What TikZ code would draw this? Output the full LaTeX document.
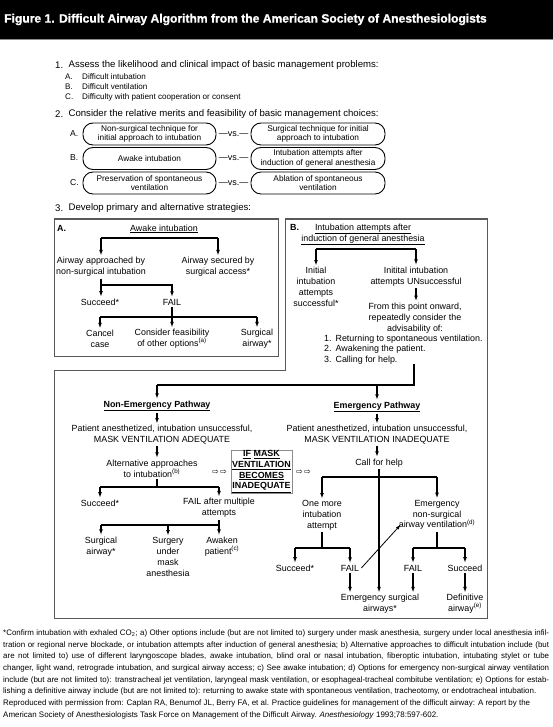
\documentclass[tikz,border=0pt]{standalone}
\usepackage{fontspec}
\setmainfont{Liberation Sans}
\newfontfamily\symf{DejaVu Sans}
\newfontfamily\titlef{Liberation Sans}[BoldFeatures={FakeBold=1.2}]
\usetikzlibrary{arrows.meta,calc}
\tikzset{
 txt/.style={font=\fontsize{8.9}{10.8}\selectfont, align=center, inner xsep=0pt, inner ysep=1.8pt},
 btxt/.style={font=\bfseries\fontsize{8.9}{10.8}\selectfont, align=center, inner xsep=0pt, inner ysep=1.8pt},
 bar/.style={line width=1.2pt},
 arw/.style={line width=1.2pt, -{Latex[length=5.5pt,width=3.8pt]}},
 thinarw/.style={line width=0.8pt, -{Latex[length=5pt,width=3.4pt]}},
 boxline/.style={draw=black!65, line width=1pt},
 rowbox/.style={draw, line width=0.9pt, rounded corners=10pt, minimum height=22pt, align=center, font=\fontsize{8.3}{9.4}\selectfont, inner sep=0pt},
 stepfont/.style={font=\fontsize{9.6}{11}\selectfont, inner sep=0pt, anchor=west},
 subfont/.style={font=\fontsize{8.1}{10}\selectfont, inner sep=0pt, anchor=west},
 vsfont/.style={font=\fontsize{9}{10}\selectfont, inner sep=0pt},
}
\begin{document}
\begin{tikzpicture}[x=1pt,y=-1pt]
\useasboundingbox (0,0) rectangle (553,727);
\fill[white] (0,0) rectangle (553,727);
% title bar
\fill[black] (0,0) rectangle (553,39);
\draw[black!45, line width=0.8pt] (0,39.4) -- (553,39.4);
\node[anchor=west, text=white, inner sep=0pt, font=\titlef\bfseries\fontsize{12.1}{14}\selectfont] (title) at (4,19.5) {Figure 1. Difficult Airway Algorithm from the American Society of Anesthesiologists};

% step 1
\node[stepfont] (s1l) at (55,65) {1.};
\node[stepfont] (s1t) at (68.4,65) {Assess the likelihood and clinical impact of basic management problems:};
\node[subfont] (s1al) at (65,77) {A.};
\node[subfont] (s1at) at (82,77) {Difficult intubation};
\node[subfont] (s1bl) at (65,87) {B.};
\node[subfont] (s1bt) at (82,87) {Difficult ventilation};
\node[subfont] (s1cl) at (65,97) {C.};
\node[subfont] (s1ct) at (82,97) {Difficulty with patient cooperation or consent};

% step 2
\node[stepfont] (s2l) at (55,114) {2.};
\node[stepfont] (s2t) at (68.4,114) {Consider the relative merits and feasibility of basic management choices:};
\node[subfont, font=\fontsize{8.6}{10}\selectfont] (rAl) at (70,134) {A.};
\node[subfont, font=\fontsize{8.6}{10}\selectfont] (rBl) at (70,158) {B.};
\node[subfont, font=\fontsize{8.6}{10}\selectfont] (rCl) at (70,183) {C.};
\node[rowbox, minimum width=133pt] (rA1) at (149.5,134) {Non-surgical technique for\\initial approach to intubation};
\node[rowbox, minimum width=134pt] (rA2) at (318,134) {Surgical technique for initial\\approach to intubation};
\node[rowbox, minimum width=133pt] (rB1) at (149.5,158.5) {Awake intubation};
\node[rowbox, minimum width=134pt] (rB2) at (318,158.5) {Intubation attempts after\\induction of general anesthesia};
\node[rowbox, minimum width=133pt] (rC1) at (149.5,183) {Preservation of spontaneous\\ventilation};
\node[rowbox, minimum width=134pt] (rC2) at (318,183) {Ablation of spontaneous\\ventilation};
\node[vsfont] (vA) at (233.5,134) {—vs.—};
\node[vsfont] (vB) at (233.5,158.5) {—vs.—};
\node[vsfont] (vC) at (233.5,183) {—vs.—};

% step 3
\node[stepfont] (s3l) at (55,208) {3.};
\node[stepfont] (s3t) at (68.4,208) {Develop primary and alternative strategies:};

% boxes
\draw[boxline] (54,219) rectangle (278,356);
\draw[boxline] (285,219) -- (487,219) -- (487,618) -- (54,618) -- (54,370) -- (285,370) -- cycle;

% ---- Box A
\node[btxt, anchor=west] (labA) at (57,228) {A.};
\node[txt] (awT) at (164,229) {\underline{Awake intubation}};
\coordinate (yA1) at (0,238);
\node[txt] (aA1) at (101,267) {Airway approached by\\non-surgical intubation};
\node[txt] (aA2) at (218,267) {Airway secured by\\surgical access*};
\draw[bar] (aA1.north |- yA1) -- (aA2.north |- yA1);
\draw[arw] (aA1.north |- yA1) -- (aA1.north);
\draw[arw] (aA2.north |- yA1) -- (aA2.north);
\coordinate (yA2) at (0,285);
\node[txt] (sA) at (100,302) {Succeed*};
\node[txt] (fA) at (172,302) {FAIL};
\draw[arw] (aA1.south) -- (aA1.south |- sA.north);
\draw[arw] (aA1.south |- yA2) -- (fA.north |- yA2) -- (fA.north);
\coordinate (yA3) at (0,317);
\node[txt] (cA) at (100,339) {Cancel\\case};
\node[txt] (oA) at (172,339) {Consider feasibility\\of other options\textsuperscript{(a)}};
\node[txt] (gA) at (257,339) {Surgical\\airway*};
\draw[arw] (fA.south) -- (fA.south |- oA.north);
\draw[bar] (cA.north |- yA3) -- (gA.north |- yA3);
\draw[arw] (cA.north |- yA3) -- (cA.north);
\draw[arw] (gA.north |- yA3) -- (gA.north);

% ---- Box B
\node[btxt, anchor=west] (labB) at (290,227) {B.};
\node[txt] (bT) at (363,234.5) {\underline{Intubation attempts after}\\\underline{induction of general anesthesia}};
\coordinate (yB1) at (0,249);
\node[txt] (iB1) at (316,287) {Initial\\intubation\\attempts\\successful*};
\node[txt] (iB2) at (416,276.5) {Initital intubation\\attempts UNsuccessful};
\draw[bar] (iB1.north |- yB1) -- (iB2.north |- yB1);
\draw[arw] (iB1.north |- yB1) -- (iB1.north);
\draw[arw] (iB2.north |- yB1) -- (iB2.north);
\node[txt] (fB) at (415,318) {From this point onward,\\repeatedly consider the\\advisability of:};
\draw[arw] (iB2.south) -- (iB2.south |- fB.north);
\node[txt, align=left, anchor=west] (lB) at (324,349.5) {1.\hspace{4pt}Returning to spontaneous ventilation.\\2.\hspace{4pt}Awakening the patient.\\3.\hspace{4pt}Calling for help.};

% pathways split
\coordinate (cB) at (414,364);
\coordinate (yP) at (0,385);
\node[btxt] (nE) at (157,406) {\underline{Non-Emergency Pathway}};
\node[btxt] (eE) at (377,407) {\underline{Emergency Pathway}};
\draw[bar] (cB) -- (cB |- yP) -- (nE.north |- yP);
\draw[arw] (nE.north |- yP) -- (nE.north);
\draw[arw] (eE.north |- yP) -- (eE.north);

% ---- Non-emergency
\node[txt] (pN) at (162,435) {Patient anesthetized, intubation unsuccessful,\\MASK VENTILATION ADEQUATE};
\draw[arw] (nE.south) -- (nE.south |- pN.north);
\node[txt] (aN) at (152,468.5) {Alternative approaches\\to intubation\textsuperscript{(b)}};
\draw[arw] (nE.south |- pN.south) -- (nE.south |- aN.north);
\coordinate (yN1) at (0,487);
\node[txt] (sN) at (100,503) {Succeed*};
\node[txt] (fN) at (219,508) {FAIL after multiple\\attempts};
\draw[bar] (nE.south |- aN.south) -- (nE.south |- yN1);
\draw[bar] (sN.north |- yN1) -- (fN.north |- yN1);
\draw[arw] (sN.north |- yN1) -- (sN.north);
\draw[arw] (fN.north |- yN1) -- (fN.north);
\coordinate (yN2) at (0,525);
\node[txt] (gN) at (101,546.5) {Surgical\\airway*};
\node[txt] (uN) at (168,557) {Surgery\\under\\mask\\anesthesia};
\node[txt] (wN) at (222,546.5) {Awaken\\patient\textsuperscript{(c)}};
\draw[bar] (fN.south) -- (fN.south |- yN2) -- (gN.north |- yN2);
\draw[arw] (gN.north |- yN2) -- (gN.north);
\draw[arw] (uN.north |- yN2) -- (uN.north);
\draw[arw] (fN.south |- yN2) -- (fN.south |- wN.north);

% IF MASK box
\node[draw=black!45, line width=0.8pt, minimum width=61pt, minimum height=43pt, align=center, inner sep=0pt, font=\bfseries\fontsize{8.9}{10.8}\selectfont] (ifB) at (261.5,471.5) {\underline{IF} \underline{MASK}\\\underline{VENTILATION}\\\underline{BECOMES}\\\underline{INADEQUATE}};
\node[inner sep=0pt, font=\symf\fontsize{8}{8}\selectfont] (arL) at (219.5,472) {⇨\,⇨};
\node[inner sep=0pt, font=\symf\fontsize{8}{8}\selectfont] (arR) at (303.5,472) {⇨\,⇨};

% ---- Emergency
\node[txt] (pE) at (377,435) {Patient anesthetized, intubation unsuccessful,\\MASK VENTILATION INADEQUATE};
\draw[arw] (eE.south) -- (eE.south |- pE.north);
\node[txt] (cE) at (379,463) {Call for help};
\draw[arw] (eE.south |- pE.south) -- (eE.south |- cE.north);
\node[txt] (sgE) at (380,604) {Emergency surgical\\airways*};
\draw[arw] (cE.south) -- (cE.south |- sgE.north);
\coordinate (yE1) at (0,477);
\node[txt] (oE) at (322,515.5) {One more\\intubation\\attempt};
\node[txt] (nsE) at (437,515) {Emergency\\non-surgical\\airway ventilation\textsuperscript{(d)}};
\draw[bar] (oE.north |- yE1) -- (nsE.north |- yE1);
\draw[arw] (oE.north |- yE1) -- (oE.north);
\draw[arw] (nsE.north |- yE1) -- (nsE.north);
\coordinate (yE2) at (0,548);
\node[txt] (sE) at (295,568) {Succeed*};
\node[txt] (fE) at (350,568) {FAIL};
\draw[bar] (oE.south) -- (oE.south |- yE2);
\draw[bar] (sE.north |- yE2) -- (fE.north |- yE2);
\draw[arw] (sE.north |- yE2) -- (sE.north);
\draw[arw] (fE.north |- yE2) -- (fE.north);
\draw[arw] (fE.south) -- (fE.south |- sgE.north);
\draw[thinarw] ($(fE.east)+(2,0)$) -- ($(nsE.south west)+(2,-7)$);
\node[txt] (f2E) at (413,568) {FAIL};
\node[txt] (s2E) at (465,568) {Succeed};
\draw[bar] (nsE.south) -- (nsE.south |- yE2);
\draw[bar] (f2E.north |- yE2) -- (s2E.north |- yE2);
\draw[arw] (f2E.north |- yE2) -- (f2E.north);
\draw[arw] (s2E.north |- yE2) -- (s2E.north);
\draw[arw] (f2E.south) -- (f2E.south |- sgE.north);
\node[txt] (dE) at (465,604) {Definitive\\airway\textsuperscript{(e)}};
\draw[arw] (s2E.south) -- (s2E.south |- dE.north);

% footnote
\node[anchor=north west, inner sep=0pt, text width=546pt, align=justify, font=\fontsize{7.95}{11.7}\selectfont] (foot) at (3,629.5) {*Confirm intubation with exhaled CO\textsubscript{2}; a) Other options include (but are not limited to) surgery under mask anesthesia, surgery under local anesthesia infil-\linebreak tration or regional nerve blockade, or intubation attempts after induction of general anesthesia; b) Alternative approaches to difficult intubation include (but\linebreak are not limited to) use of different laryngoscope blades, awake intubation, blind oral or nasal intubation, fiberoptic intubation, intubating stylet or tube\linebreak changer, light wand, retrograde intubation, and surgical airway access; c) See awake intubation; d) Options for emergency non-surgical airway ventilation\linebreak include (but are not limited to): transtracheal jet ventilation, laryngeal mask ventilation, or esophageal-tracheal combitube ventilation; e) Options for estab-\linebreak lishing a definitive airway include (but are not limited to): returning to awake state with spontaneous ventilation, tracheotomy, or endotracheal intubation.\newline Reproduced with permission from: Caplan RA, Benumof JL, Berry FA, et al. Practice guidelines for management of the difficult airway: A report by the\newline American Society of Anesthesiologists Task Force on Management of the Difficult Airway. \textit{Anesthesiology} 1993;78:597-602.};
\end{tikzpicture}
\end{document}
